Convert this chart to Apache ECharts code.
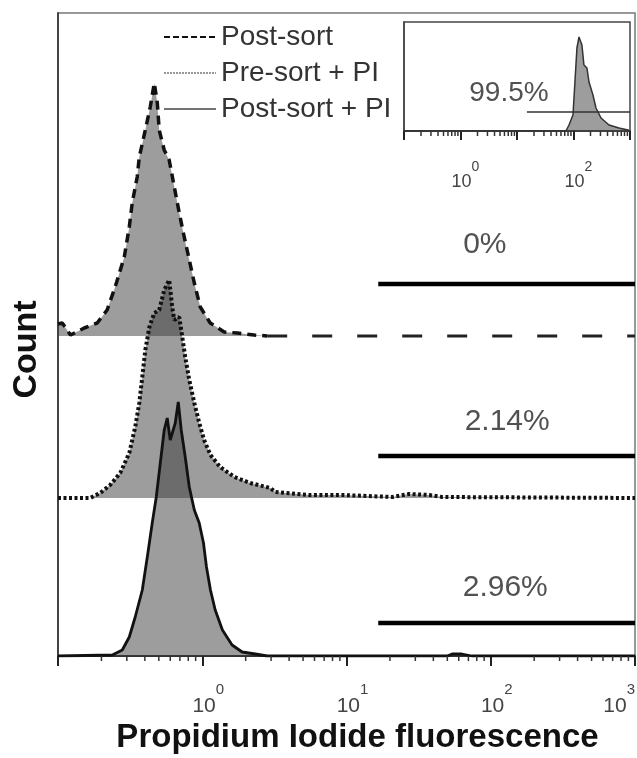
<!DOCTYPE html>
<html><head><meta charset="utf-8">
<script src="https://cdn.jsdelivr.net/npm/echarts@6/dist/echarts.min.js"></script>
<style>html,body{margin:0;padding:0;background:#fff}#c{width:637px;height:758px}</style>
</head><body><div id="c"></div>
<script>
// ---------- data ----------
const seriesNames = ['Post-sort', 'Pre-sort + PI', 'Post-sort + PI'];

const postSortX = [0.1,0.107,0.122,0.152,0.187,0.219,0.249,0.288,0.312,0.327,0.354,0.366,0.403,0.436,0.465,0.488,0.503,0.545,0.590,0.640,0.693,0.750,0.813,0.881,0.969,1.136,1.42,1.75,2.29,2.82,10,100,1000];
const postSortY = [12,13,1,8,13,26,49,79,109,133,159,179,206,229,253,233,206,186,176,149,123,99,76,53,29,13,4,3,1,0,0,0,0];

const preSortPIX = [0.1,0.167,0.196,0.230,0.270,0.312,0.343,0.366,0.384,0.403,0.430,0.465,0.503,0.545,0.590,0.619,0.640,0.693,0.727,0.762,0.813,0.881,0.953,1.03,1.14,1.33,1.67,2.15,2.96,3.21,5.52,9.35,20.8,27.2,37.5,46.1,1000];
const preSortPIY = [0,0,5,13,25,45,71,95,121,148,171,185,188,208,218,191,178,181,161,141,118,95,75,58,43,31,21,15,10,6,3,3,1,4,3,1,0];

const postSortPIX = [0.1,0.238,0.279,0.312,0.343,0.384,0.416,0.450,0.480,0.512,0.545,0.572,0.600,0.650,0.682,0.715,0.762,0.813,0.881,0.953,1.02,1.07,1.14,1.23,1.38,1.61,1.89,2.33,2.82,50,54,63,74,80,1000];
const postSortPIY = [0,1,6,19,39,66,99,133,159,193,226,238,216,233,254,226,199,169,146,133,113,89,66,46,26,11,4,2,0,0,2,2,0,0,0];

const insetX = [0.1,73.6,83.2,97.9,106,115,125,141,153,173,188,221,250,307,425,638,922,1000];
const insetY = [0,0,6,16,49,83,94,86,66,63,49,36,23,13,6,3,1,0];

const pctLabels = ['0%', '2.14%', '2.96%'];
const pctLabelX = [91, 130, 126];
const pctLabelY = [91, 76, 68];
const gateStart = [16.6, 16.6, 16.6];
const gateEnd = 1000;
const gateY = [52, 42, 33];

const insetLabel = '99.5%';
const insetLabelX = 7.2, insetLabelY = 38;
const insetGateStart = 15, insetGateY = 19;

const xMin = 0.1, xMax = 1000;
const minorTicks = [0.2,0.3,0.4,0.5,0.6,0.7,0.8,0.9,2,3,4,5,6,7,8,9,20,30,40,50,60,70,80,90,200,300,400,500,600,700,800,900];

// ---------- layout / style ----------
const panelBase = [320, 158, 0];   // stacking offsets for the three histograms
const FONT = 'Liberation Sans, Arial, sans-serif';
const FILL = 'rgba(60,60,60,0.5)';

function pairs(xs, ys, base) { return xs.map((x, i) => [x, ys[i] + base]); }

let lastNZ = 0; postSortY.forEach((v, i) => { if (v > 0) lastNZ = i; });
const psAll = pairs(postSortX, postSortY, panelBase[0]);
const psCurve = psAll.slice(0, lastNZ + 2);
const psTail = psAll.slice(lastNZ + 1);

function tickRender(len, lw) {
  return function (params, api) {
    const p = api.coord([api.value(0), api.value(1)]);
    return { type: 'line', shape: { x1: p[0], y1: p[1], x2: p[0], y2: p[1] + len },
      style: { stroke: '#333', lineWidth: lw } };
  };
}

function logLabel(show, bs, ss, padB, padL) {
  return {
    formatter: v => { const e = Math.round(Math.log10(v)); return show(e) ? '{b|10}{s|' + e + '}' : ''; },
    rich: {
      b: { fontSize: bs, color: '#444', fontFamily: FONT, lineHeight: bs + 2, padding: [0, 0, 0, padL] },
      s: { fontSize: ss, color: '#444', fontFamily: FONT, lineHeight: ss, padding: [0, 0, padB, 0] }
    }
  };
}

const chart = echarts.init(document.getElementById('c'), null, { renderer: 'canvas' });

const mainLabel = logLabel(e => e >= 0, 21, 15, 33, 12);
mainLabel.margin = 39; mainLabel.showMaxLabel = true; mainLabel.alignMaxLabel = 'right';
const insetLabelCfg = logLabel(e => e === 0 || e === 2, 18, 14, 30, 10);
insetLabelCfg.margin = 41;

const option = {
  animation: false,
  backgroundColor: '#fff',
  textStyle: { fontFamily: FONT },
  grid: [
    { left: 58, top: 13, width: 577, height: 643, show: true, borderColor: '#777', borderWidth: 1.5, backgroundColor: 'transparent', outerBoundsMode: 'none', containLabel: false },
    { left: 404, top: 22, width: 226, height: 109, show: true, borderColor: '#444', borderWidth: 1.5, backgroundColor: '#fff', outerBoundsMode: 'none', containLabel: false }
  ],
  xAxis: [
    { type: 'log', logBase: 10, min: xMin, max: xMax, gridIndex: 0,
      axisLine: { show: true, lineStyle: { color: '#333', width: 2 } },
      axisTick: { show: true, length: 10, lineStyle: { color: '#222', width: 2 } },
      splitLine: { show: false }, minorTick: { show: false },
      axisLabel: mainLabel,
      name: 'Propidium Iodide fluorescence', nameLocation: 'middle', nameGap: 65, nameMoveOverlap: false,
      nameTextStyle: { fontSize: 33, fontWeight: 'bold', color: '#111', fontFamily: FONT, padding: [0, 0, 0, 22] } },
    { type: 'log', logBase: 10, min: xMin, max: xMax, gridIndex: 1,
      axisLine: { show: true, lineStyle: { color: '#333', width: 1.5 } },
      axisTick: { show: true, length: 9, lineStyle: { color: '#222', width: 2 } },
      splitLine: { show: false },
      axisLabel: insetLabelCfg }
  ],
  yAxis: [
    { type: 'value', min: 0, max: 643, gridIndex: 0,
      axisLine: { show: true, lineStyle: { color: '#444', width: 2 } },
      axisTick: { show: false }, axisLabel: { show: false }, splitLine: { show: false },
      name: 'Count', nameLocation: 'middle', nameGap: 14, nameRotate: 90, nameMoveOverlap: false,
      nameTextStyle: { fontSize: 34, fontWeight: 'bold', color: '#111', fontFamily: FONT, padding: [0, 30, 0, 0] } },
    { type: 'value', min: 0, max: 109, gridIndex: 1,
      axisLine: { show: true, lineStyle: { color: '#444', width: 1.5 } },
      axisTick: { show: false }, axisLabel: { show: false }, splitLine: { show: false } }
  ],
  legend: {
    orient: 'vertical', left: 158, top: 17, itemWidth: 52, itemHeight: 14, itemGap: 6,
    selectedMode: false,
    textStyle: { fontSize: 28, color: '#333', fontFamily: FONT, lineHeight: 30 },
    data: [
      { name: seriesNames[0], itemStyle: { opacity: 0 }, lineStyle: { color: '#111', width: 2, type: [6, 3] } },
      { name: seriesNames[1], itemStyle: { opacity: 0 }, lineStyle: { color: '#999', width: 2, type: [2, 1] } },
      { name: seriesNames[2], itemStyle: { opacity: 0 }, lineStyle: { color: '#444', width: 1.5, type: 'solid' } }
    ]
  },
  series: [
    { name: seriesNames[0], type: 'line', xAxisIndex: 0, yAxisIndex: 0, data: psCurve, symbol: 'none', z: 3,
      lineStyle: { color: '#111', width: 3.5, type: [9, 6] },
      areaStyle: { color: FILL, opacity: 1, origin: panelBase[0] } },
    { name: seriesNames[0] + ' tail', type: 'line', xAxisIndex: 0, yAxisIndex: 0, data: psTail, symbol: 'none', z: 3,
      lineStyle: { color: '#222', width: 3, type: [20, 25] } },
    { name: seriesNames[1], type: 'line', xAxisIndex: 0, yAxisIndex: 0, data: pairs(preSortPIX, preSortPIY, panelBase[1]), symbol: 'none', z: 3,
      lineStyle: { color: '#111', width: 4, type: [3, 2.5] },
      areaStyle: { color: FILL, opacity: 1, origin: panelBase[1] } },
    { name: seriesNames[2], type: 'line', xAxisIndex: 0, yAxisIndex: 0, data: pairs(postSortPIX, postSortPIY, panelBase[2]), symbol: 'none', z: 3,
      lineStyle: { color: '#111', width: 2.8 },
      areaStyle: { color: FILL, opacity: 1, origin: panelBase[2] } },
    ...gateStart.map((g, i) => ({
      name: 'gate' + i, type: 'line', xAxisIndex: 0, yAxisIndex: 0, symbol: 'none', z: 4,
      data: [[g, gateY[i] + panelBase[i]], [gateEnd, gateY[i] + panelBase[i]]],
      lineStyle: { color: '#000', width: 4.5 } })),
    { name: 'pct', type: 'scatter', xAxisIndex: 0, yAxisIndex: 0, symbolSize: 0, z: 5,
      data: pctLabels.map((t, i) => [pctLabelX[i], pctLabelY[i] + panelBase[i]]),
      label: { show: true, position: 'inside', formatter: p => pctLabels[p.dataIndex], fontSize: 30, color: '#262626', fontFamily: FONT } },
    { name: 'minor', type: 'custom', xAxisIndex: 0, yAxisIndex: 0, clip: false, z: 5,
      data: minorTicks.map(v => [v, 0]), renderItem: tickRender(5, 1.5) },
    { name: 'inset', type: 'line', xAxisIndex: 1, yAxisIndex: 1, data: pairs(insetX, insetY, 0), symbol: 'none', z: 3,
      lineStyle: { color: '#333', width: 1.5 }, areaStyle: { color: FILL, opacity: 1, origin: 0 } },
    { name: 'insetGate', type: 'line', xAxisIndex: 1, yAxisIndex: 1, symbol: 'none', z: 4,
      data: [[insetGateStart, insetGateY], [xMax, insetGateY]], lineStyle: { color: '#333', width: 1.5 } },
    { name: 'insetPct', type: 'scatter', xAxisIndex: 1, yAxisIndex: 1, symbolSize: 0, z: 5,
      data: [[insetLabelX, insetLabelY]],
      label: { show: true, position: 'inside', formatter: () => insetLabel, fontSize: 28, color: '#262626', fontFamily: FONT } },
    { name: 'insetMinor', type: 'custom', xAxisIndex: 1, yAxisIndex: 1, clip: false, z: 5,
      data: minorTicks.map(v => [v, 0]), renderItem: tickRender(5, 1.5) }
  ]
};
chart.setOption(option);
</script></body></html>
